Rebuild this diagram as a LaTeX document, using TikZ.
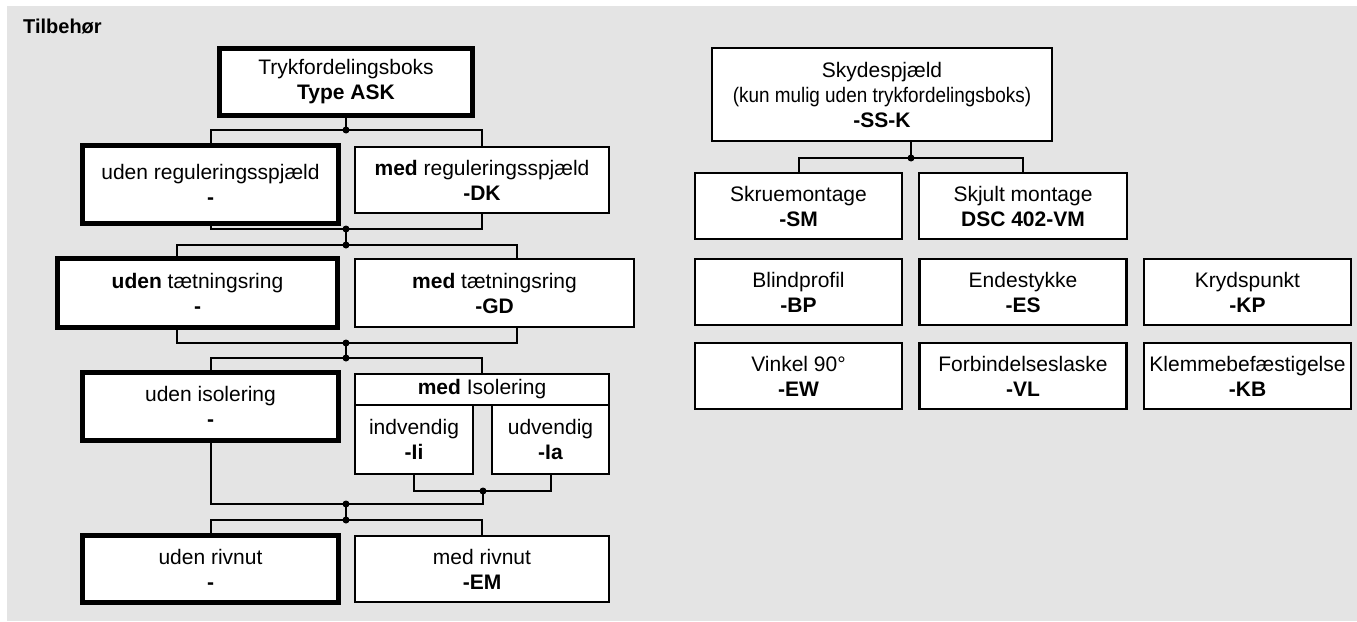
\documentclass[tikz,border=0pt]{standalone}
\usepackage{fontspec}
\setmainfont{Liberation Sans}
\newfontfamily\narrowfont[FakeStretch=0.9]{Liberation Sans}
\usepackage{xcolor}
\usepackage{tikz}
\definecolor{panelgray}{HTML}{E4E4E4}

\begin{document}
\begin{tikzpicture}[x=1pt, y=-1pt, line join=miter,
    optbox/.style={draw=black, fill=white, line width=2.2pt, inner sep=0pt,
                   align=center, font=\fontsize{21}{25}\selectfont},
    stdbox/.style={optbox, line width=5.5pt},
    wire/.style={line width=2pt, black}]

  % ---- grey panel and heading ---------------------------------------------
  \fill[panelgray] (7,6) rectangle (1357,621);
  \node[anchor=base west, inner sep=0pt, font=\fontsize{20}{24}\selectfont\bfseries]
    (title) at (23,33) {Tilbehør};

  % ---- left tree: standard choice in the thick boxes ----------------------
  \node[stdbox, minimum width=253pt, minimum height=67pt] (ask) at (346,82)
    {Trykfordelingsboks\\\textbf{Type ASK}};

  \node[stdbox, minimum width=256pt, minimum height=78pt] (udenDK) at (210.5,184.5)
    {uden reguleringsspjæld\\\textbf{-}};
  \node[optbox, minimum width=254pt, minimum height=66pt] (medDK) at (482,180)
    {\textbf{med} reguleringsspjæld\\\textbf{-DK}};

  \node[stdbox, minimum width=280pt, minimum height=69pt] (udenGD) at (197.5,293)
    {\textbf{uden} tætningsring\\\textbf{-}};
  \node[optbox, minimum width=279pt, minimum height=68pt] (medGD) at (494.5,293)
    {\textbf{med} tætningsring\\\textbf{-GD}};

  \node[stdbox, minimum width=256pt, minimum height=68pt] (udenIS) at (210.5,406.5)
    {uden isolering\\\textbf{-}};
  \node[optbox, minimum width=254pt, minimum height=31pt] (medIS) at (482,389.5)
    {\textbf{med} Isolering};
  \node[optbox, minimum width=118pt, minimum height=69pt] (isoIn) at (414,439.5)
    {indvendig\\\textbf{-Ii}};
  \node[optbox, minimum width=117pt, minimum height=69pt] (isoOut) at (550.5,439.5)
    {udvendig\\\textbf{-Ia}};

  \node[stdbox, minimum width=256pt, minimum height=67pt] (udenEM) at (210.5,569)
    {uden rivnut\\\textbf{-}};
  \node[optbox, minimum width=254pt, minimum height=66pt] (medEM) at (482,569)
    {med rivnut\\\textbf{-EM}};

  % ---- left tree: junctions and wires --------------------------------------
  \coordinate (j1) at (346,130);
  \coordinate (j2) at (346,229);
  \coordinate (j3) at (346,245);
  \coordinate (j4) at (346,343);
  \coordinate (j5) at (346,358);
  \coordinate (jI) at (483,491);
  \coordinate (j6) at (346,504);
  \coordinate (j7) at (346,520);

  \draw[wire] (ask) -- (j1);
  \draw[wire] (udenDK.north) |- (j1) -| (medDK.north);
  \draw[wire] (udenDK.south) |- (j2) -| (medDK.south);
  \draw[wire] (j2) -- (j3);
  \draw[wire] ([xshift=-20.5pt]udenGD.north) |- (j3) -| ([xshift=22.5pt]medGD.north);
  \draw[wire] ([xshift=-20.5pt]udenGD.south) |- (j4) -| ([xshift=22.5pt]medGD.south);
  \draw[wire] (j4) -- (j5);
  \draw[wire] (udenIS.north) |- (j5) -| (medIS.north);
  \draw[wire] (isoIn.south) |- (jI) -| (isoOut.south);
  \draw[wire] (udenIS.south) |- (j6) -| (jI);
  \draw[wire] (j6) -- (j7);
  \draw[wire] (udenEM.north) |- (j7) -| (medEM.north);

  % ---- right side: slide damper and its parts ------------------------------
  \node[optbox, minimum width=340pt, minimum height=93pt] (ss) at (882,94.5)
    {Skydespjæld\\{\narrowfont (kun mulig uden trykfordelingsboks)}\\\textbf{-SS-K}};
  \node[optbox, minimum width=207pt, minimum height=66pt] (sm) at (798.5,206)
    {Skruemontage\\\textbf{-SM}};
  \node[optbox, minimum width=208pt, minimum height=66pt] (vm) at (1023,206)
    {Skjult montage\\\textbf{DSC 402-VM}};

  \coordinate (jS) at (911,158);
  \draw[wire] (ss.south -| jS) -- (jS);
  \draw[wire] (sm.north) |- (jS) -| (vm.north);

  \foreach \n/\x/\y/\t/\c in {bp/798.5/292/Blindprofil/-BP,
                              es/1023/292/Endestykke/-ES,
                              kp/1247.5/292/Krydspunkt/-KP,
                              ew/798.5/376/Vinkel 90°/-EW,
                              vl/1023/376/Forbindelseslaske/-VL,
                              kb/1247.5/376/Klemmebefæstigelse/-KB}{
    \node[optbox, minimum width=207pt, minimum height=66pt] (\n) at (\x,\y)
      {\t\\\textbf{\c}};}

  % ---- junction dots -------------------------------------------------------
  \foreach \j in {j1,j2,j3,j4,j5,jI,j6,j7,jS}{
    \fill[black] (\j) circle (3.5pt);}

  \path (0,0) rectangle (1357,621);
\end{tikzpicture}
\end{document}
